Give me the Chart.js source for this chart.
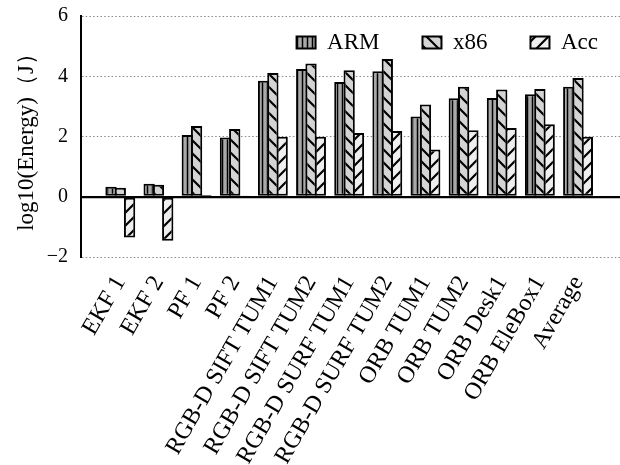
<!DOCTYPE html>
<html><head><meta charset="utf-8">
<script src="https://cdn.jsdelivr.net/npm/chart.js@4"></script>
<style>html,body{margin:0;padding:0;background:#fff}</style>
</head><body><canvas id="c" width="620" height="465"></canvas>
<script>
const categories = ['EKF 1','EKF 2','PF 1','PF 2','RGB-D SIFT TUM1','RGB-D SIFT TUM2','RGB-D SURF TUM1','RGB-D SURF TUM2','ORB TUM1','ORB TUM2','ORB Desk1','ORB EleBox1','Average'];
const seriesNames = ['ARM','x86','Acc'];
const armValues = [0.33,0.43,2.05,1.97,3.85,4.24,3.81,4.17,2.66,3.27,3.28,3.40,3.65];
const x86Values = [0.30,0.40,2.35,2.25,4.11,4.42,4.20,4.57,3.06,3.65,3.56,3.58,3.94];
const accValues = [-1.35,-1.46,0.06,0.02,1.99,1.99,2.12,2.18,1.57,2.21,2.28,2.41,1.99];
const yTickValues = [-2,0,2,4,6];
const yTitle = 'log10(Energy)（J）';

const canvas = document.getElementById('c');
const ctx = canvas.getContext('2d');

function makePattern(bg, kind) {
  const s = kind === 'v' ? 5 : 13;
  const c = document.createElement('canvas'); c.width = s; c.height = s;
  const g = c.getContext('2d');
  g.fillStyle = bg; g.fillRect(0, 0, s, s);
  g.strokeStyle = '#000'; g.lineWidth = kind === 'v' ? 1.5 : 2.2;
  g.beginPath();
  if (kind === 'v') { g.moveTo(2.5, 0); g.lineTo(2.5, s); }
  else if (kind === 'b') {
    g.moveTo(-2, -2); g.lineTo(s + 2, s + 2);
    g.moveTo(-2, s - 2); g.lineTo(2, s + 2);
    g.moveTo(s - 2, -2); g.lineTo(s + 2, 2);
  } else {
    g.moveTo(-2, s + 2); g.lineTo(s + 2, -2);
    g.moveTo(-2, 2); g.lineTo(2, -2);
    g.moveTo(s - 2, s + 2); g.lineTo(s + 2, s - 2);
  }
  g.stroke();
  return ctx.createPattern(c, 'repeat');
}

const toPoints = vals => vals.map((v, i) => ({x: i, y: v}));
const FONT = 'Liberation Serif';

const legendInside = {
  id: 'legendInside',
  beforeInit(chart) {
    const fit = chart.legend.fit;
    chart.legend.fit = function () { fit.call(this); this.height = 0; };
  },
  afterLayout(chart) {
    const lg = chart.legend;
    lg.top = chart.chartArea.top - 28;
    lg.bottom = lg.top + 90;
    lg.right = lg.right + 21;
  }
};

new Chart(ctx, {
  type: 'bar',
  data: {
    datasets: [
      {label: seriesNames[0], data: toPoints(armValues), backgroundColor: makePattern('#a9a9a9', 'v'), borderColor: '#000', borderWidth: 2, borderSkipped: false},
      {label: seriesNames[1], data: toPoints(x86Values), backgroundColor: makePattern('#d4d4d4', 'b'), borderColor: '#000', borderWidth: 2, borderSkipped: false},
      {label: seriesNames[2], data: toPoints(accValues), backgroundColor: makePattern('#efefef', 'f'), borderColor: '#000', borderWidth: 2, borderSkipped: false}
    ]
  },
  options: {
    responsive: false, animation: false, devicePixelRatio: 1,
    datasets: {bar: {categoryPercentage: 0.731, barPercentage: 1.215}},
    layout: {padding: {top: 16, right: 0, left: 0, bottom: 0}},
    scales: {
      x: {
        type: 'linear', min: -1.03, max: 13.1, offset: false,
        grid: {display: false}, border: {display: false},
        ticks: {stepSize: 1, includeBounds: false, autoSkip: false, minRotation: 60, maxRotation: 60, padding: 6,
          color: '#000', font: {family: FONT, size: 24},
          callback: v => (Number.isInteger(v) && v >= 0 && v < categories.length) ? categories[v] : ''},
        afterFit: s => { s.height = 208; s.paddingLeft = 0; s.paddingRight = 0; }
      },
      y: {
        min: yTickValues[0], max: yTickValues[yTickValues.length - 1],
        afterBuildTicks: s => { s.ticks = yTickValues.map(v => ({value: v})); },
        ticks: {padding: 13, color: '#000', font: {family: FONT, size: 20},
          callback: v => v < 0 ? '\u2212' + Math.abs(v) : String(v)},
        grid: {drawTicks: false,
          color: c => (c.tick && c.tick.value === 0) ? '#000' : '#8a8a8a',
          lineWidth: c => (c.tick && c.tick.value === 0) ? 2.2 : 1},
        border: {display: true, color: '#000', width: 2,
          dash: c => (c.tick && c.tick.value === 0) ? [] : [1.5, 2.2]},
        title: {display: true, text: yTitle, color: '#000', font: {family: FONT, size: 23}, padding: {top: 13, bottom: 0}},
        afterFit: s => { s.width = 81; s.paddingTop = 0; s.paddingBottom = 0; }
      }
    },
    plugins: {
      legend: {position: 'top', align: 'end',
        labels: {boxWidth: 19, boxHeight: 12, padding: 43, color: '#000', font: {family: FONT, size: 23}}},
      tooltip: {enabled: false}
    }
  },
  plugins: [legendInside]
});
</script></body></html>
